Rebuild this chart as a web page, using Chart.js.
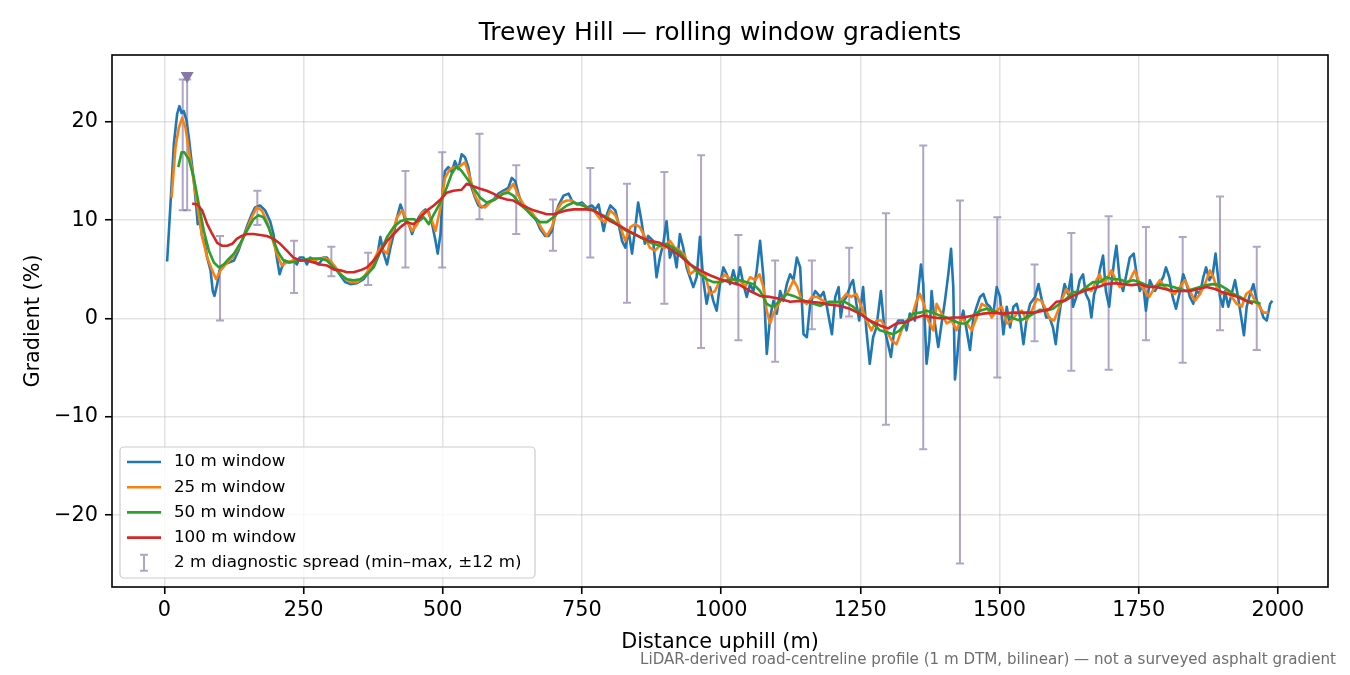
<!DOCTYPE html>
<html>
<head>
<meta charset="utf-8">
<title>Trewey Hill — rolling window gradients</title>
<script src="https://cdn.jsdelivr.net/npm/chart.js@4.4.1/dist/chart.umd.min.js"></script>
<style>
  html, body { margin: 0; padding: 0; background: #fff; }
  #wrap { width: 1350px; height: 675px; }
</style>
</head>
<body>
<div id="wrap"><canvas id="gradChart" width="1350" height="675"></canvas></div>
<script>
// 10 m window (distance m, gradient %)
const dist10 = [5, 11, 17, 23, 27, 31, 35, 40, 44, 48, 53, 57, 60, 63, 68, 72, 77, 83, 87, 90, 95, 99, 107, 116, 125, 133, 142, 148, 157, 163, 172, 181, 190, 196, 202, 207, 211, 217, 223, 232, 238, 243, 250, 256, 262, 268, 277, 286, 292, 298, 307, 316, 325, 334, 346, 358, 364, 373, 382, 388, 394, 400, 406, 412, 418, 424, 428, 433, 439, 445, 451, 457, 463, 469, 475, 481, 487, 491, 496, 500, 504, 510, 516, 522, 528, 534, 540, 546, 552, 558, 564, 570, 576, 582, 591, 600, 609, 618, 624, 630, 636, 642, 651, 660, 669, 675, 684, 690, 696, 702, 708, 717, 726, 732, 741, 750, 759, 768, 774, 780, 789, 795, 801, 810, 816, 822, 828, 834, 840, 846, 851, 857, 863, 869, 878, 884, 890, 896, 902, 908, 914, 920, 926, 932, 938, 944, 950, 956, 962, 968, 974, 980, 986, 992, 998, 1004, 1010, 1016, 1022, 1028, 1034, 1040, 1046, 1052, 1058, 1064, 1070, 1076, 1082, 1088, 1094, 1100, 1106, 1112, 1118, 1124, 1130, 1136, 1142, 1148, 1154, 1160, 1169, 1178, 1184, 1190, 1199, 1205, 1211, 1215, 1219, 1225, 1233, 1237, 1243, 1248, 1255, 1261, 1267, 1273, 1279, 1287, 1293, 1297, 1305, 1311, 1318, 1327, 1333, 1339, 1348, 1354, 1359, 1363, 1369, 1374, 1378, 1384, 1390, 1396, 1402, 1408, 1413, 1417, 1420, 1424, 1429, 1435, 1441, 1447, 1453, 1459, 1465, 1471, 1477, 1483, 1489, 1495, 1501, 1507, 1513, 1519, 1525, 1531, 1537, 1543, 1549, 1555, 1564, 1570, 1576, 1584, 1590, 1596, 1601, 1605, 1611, 1617, 1623, 1629, 1632, 1638, 1644, 1650, 1655, 1661, 1665, 1670, 1676, 1680, 1686, 1691, 1697, 1701, 1706, 1710, 1716, 1722, 1728, 1734, 1741, 1747, 1752, 1758, 1763, 1770, 1779, 1787, 1794, 1799, 1805, 1811, 1817, 1823, 1830, 1836, 1842, 1848, 1854, 1860, 1866, 1871, 1877, 1883, 1888, 1892, 1896, 1901, 1905, 1911, 1917, 1923, 1929, 1935, 1939, 1944, 1950, 1956, 1962, 1968, 1974, 1980, 1986, 1990];
const grad10 = [5.8, 11.6, 17.7, 20.8, 21.6, 20.9, 21.1, 20.1, 18.4, 16.4, 14.0, 11.6, 9.6, 10.3, 8.3, 7.9, 6.2, 4.9, 2.8, 2.3, 3.5, 4.9, 5.5, 5.7, 5.9, 6.9, 8.3, 9.3, 10.6, 11.3, 11.5, 11.0, 9.9, 8.6, 6.2, 4.5, 5.2, 5.9, 5.7, 5.9, 5.5, 6.2, 6.2, 5.5, 6.2, 5.9, 5.5, 6.2, 6.2, 5.7, 5.2, 4.4, 3.7, 3.5, 3.6, 4.0, 4.5, 5.2, 6.2, 8.3, 6.6, 5.5, 7.2, 8.6, 10.3, 11.6, 11.0, 9.9, 9.6, 8.6, 9.6, 10.3, 10.8, 11.1, 10.8, 9.6, 7.9, 6.6, 8.6, 13.0, 15.0, 15.4, 14.9, 16.0, 15.2, 16.7, 16.4, 15.4, 13.3, 12.3, 11.5, 11.3, 11.5, 11.8, 12.1, 12.7, 13.0, 13.3, 14.3, 14.0, 12.7, 11.6, 11.1, 10.6, 9.9, 9.1, 8.4, 8.4, 8.9, 10.5, 11.5, 12.5, 12.7, 12.0, 11.6, 11.8, 11.3, 11.5, 11.1, 11.6, 8.9, 10.6, 11.5, 11.0, 9.6, 7.9, 7.2, 8.9, 6.6, 9.3, 11.8, 9.9, 7.6, 8.4, 7.9, 4.2, 6.2, 7.6, 9.9, 6.2, 7.2, 5.2, 8.6, 7.2, 5.2, 4.2, 3.2, 4.2, 8.3, 3.9, 1.5, 3.2, 1.8, 0.8, 3.5, 5.2, 4.5, 3.5, 4.9, 3.5, 5.2, 3.5, 2.2, 3.5, 2.8, 4.9, 7.9, 4.2, -3.6, 0.1, 1.8, 0.5, 2.8, 1.8, 3.5, 4.5, 3.9, 6.2, 5.2, -1.6, -1.9, 1.5, 2.8, 2.2, 2.7, 1.2, -1.6, 2.2, 3.2, 0.1, 1.7, 2.2, 3.5, 3.9, 1.5, -0.2, 3.2, -1.2, -4.6, -1.9, -0.9, 2.8, -0.9, -1.9, -3.9, -1.2, -0.2, -0.2, -1.2, 0.5, -0.2, 2.8, 5.5, 3.5, -4.6, -2.2, 2.8, -0.5, -2.9, -0.5, 1.8, 4.5, 7.1, 3.2, -6.2, -3.9, -0.5, 0.8, -1.2, -3.2, 0.1, 1.2, 2.2, 2.5, 1.5, 1.2, 0.5, 3.2, 2.2, -1.6, 1.2, -0.9, 1.2, 1.5, 0.1, -2.6, 0.1, 1.5, 2.2, 3.5, 1.9, 0.1, 0.1, -0.9, -2.6, -0.5, 1.8, 3.5, 2.5, 4.5, 1.2, 2.2, 3.9, 4.5, 2.5, 1.8, 0.1, 2.5, 3.5, 4.9, 6.4, 2.8, 1.2, 3.5, 5.9, 7.4, 3.9, 2.8, 4.5, 6.2, 6.6, 4.2, 2.8, 3.5, 0.8, 3.9, 2.8, 3.5, 4.2, 5.2, 4.2, 2.2, 1.0, 2.5, 4.5, 3.5, 2.2, 1.5, 2.8, 2.5, 4.2, 5.2, 3.9, 4.5, 6.6, 4.5, 2.2, 1.2, 2.8, 1.2, 2.5, 3.9, 2.0, -0.2, -1.7, 1.2, 2.5, 3.5, 1.8, 1.2, 0.1, -0.2, 1.5, 1.8];

// 25 m window
const dist25 = [13, 20, 26, 32, 38, 44, 50, 59, 68, 77, 86, 93, 101, 110, 122, 133, 145, 157, 166, 175, 184, 193, 202, 211, 220, 232, 250, 268, 286, 298, 310, 322, 334, 346, 358, 370, 382, 388, 400, 409, 418, 427, 436, 445, 454, 463, 472, 481, 487, 496, 504, 513, 522, 531, 540, 549, 558, 567, 576, 585, 597, 609, 618, 627, 636, 645, 657, 669, 678, 687, 696, 705, 714, 723, 732, 741, 750, 759, 771, 783, 792, 801, 810, 819, 828, 837, 846, 854, 863, 872, 881, 890, 899, 908, 917, 926, 935, 944, 953, 962, 971, 980, 989, 998, 1007, 1016, 1025, 1034, 1043, 1052, 1061, 1069, 1076, 1082, 1088, 1094, 1103, 1112, 1121, 1130, 1137, 1145, 1154, 1163, 1172, 1184, 1193, 1201, 1213, 1225, 1234, 1243, 1252, 1261, 1270, 1279, 1288, 1297, 1306, 1315, 1324, 1333, 1342, 1351, 1357, 1364, 1372, 1381, 1387, 1396, 1405, 1414, 1423, 1432, 1441, 1450, 1459, 1468, 1477, 1486, 1495, 1504, 1513, 1522, 1531, 1540, 1549, 1558, 1567, 1575, 1581, 1590, 1598, 1605, 1614, 1620, 1629, 1638, 1647, 1656, 1665, 1674, 1680, 1686, 1695, 1701, 1709, 1716, 1725, 1734, 1743, 1752, 1761, 1769, 1779, 1788, 1797, 1806, 1815, 1824, 1833, 1842, 1851, 1860, 1869, 1878, 1884, 1890, 1899, 1908, 1917, 1926, 1935, 1943, 1950, 1959, 1967, 1974, 1983];
const grad25 = [12.3, 17.4, 19.4, 20.4, 19.4, 17.1, 15.0, 11.6, 8.3, 6.2, 4.9, 4.0, 4.9, 5.5, 6.2, 7.2, 8.6, 10.3, 11.3, 11.0, 9.9, 8.3, 6.6, 5.4, 5.7, 5.9, 5.9, 5.9, 6.2, 5.9, 5.0, 4.2, 3.7, 3.7, 4.2, 5.2, 6.6, 7.2, 6.6, 8.6, 10.3, 11.0, 9.9, 8.9, 9.6, 10.8, 11.0, 9.9, 8.9, 11.3, 14.3, 15.2, 15.4, 15.5, 15.9, 14.3, 12.5, 11.5, 11.3, 11.8, 12.3, 12.8, 13.0, 13.7, 12.5, 11.6, 11.0, 10.1, 9.1, 8.4, 9.3, 11.0, 11.8, 12.0, 12.0, 11.6, 11.6, 11.3, 11.0, 10.1, 9.8, 11.0, 10.5, 9.3, 7.9, 9.3, 9.6, 9.3, 8.3, 7.2, 6.9, 7.4, 7.2, 7.9, 7.2, 6.9, 6.4, 4.5, 4.9, 4.7, 4.5, 2.5, 2.8, 3.9, 4.5, 4.0, 3.9, 3.9, 3.2, 4.2, 3.9, 4.5, 3.2, 0.8, -0.5, 0.5, 1.5, 2.2, 2.8, 3.9, 3.2, 1.8, 1.5, 2.2, 2.2, 1.8, 1.4, 1.5, 1.7, 2.5, 2.2, 2.5, 1.2, -0.2, -1.2, -0.2, -0.2, -1.2, -2.2, -2.6, -1.2, -0.2, 0.1, 1.8, 2.5, 1.5, -0.2, -1.2, 1.5, 0.5, -0.5, -0.2, -1.2, 0.1, -0.5, -1.2, 0.1, 1.5, 1.2, 0.1, 0.8, 1.2, -0.5, -0.2, 0.5, 0.8, -0.2, 0.8, 2.0, 1.8, 1.2, 0.0, -0.2, 0.8, 2.2, 3.0, 2.2, 2.5, 2.8, 3.2, 2.8, 3.9, 4.5, 3.5, 4.2, 4.9, 3.9, 3.2, 3.5, 3.9, 4.9, 3.5, 2.8, 2.2, 3.2, 3.9, 3.2, 2.8, 2.5, 3.2, 3.9, 2.8, 1.8, 2.5, 3.5, 4.9, 4.2, 3.2, 2.5, 2.8, 2.2, 1.5, 1.2, 2.5, 2.8, 1.8, 1.2, 0.6, 0.6];

// 50 m window
const dist50 = [25, 31, 36, 44, 53, 62, 71, 80, 89, 98, 107, 116, 125, 136, 148, 160, 169, 178, 187, 196, 205, 214, 226, 244, 262, 280, 292, 304, 316, 328, 340, 352, 364, 376, 388, 400, 412, 424, 436, 448, 457, 466, 475, 484, 496, 507, 516, 525, 534, 543, 555, 567, 579, 594, 609, 618, 627, 639, 651, 663, 675, 687, 699, 711, 723, 735, 747, 759, 771, 783, 795, 807, 819, 831, 843, 854, 866, 878, 890, 902, 914, 926, 938, 950, 962, 974, 986, 998, 1010, 1022, 1034, 1046, 1058, 1070, 1082, 1091, 1100, 1109, 1118, 1130, 1142, 1154, 1166, 1178, 1193, 1208, 1222, 1237, 1249, 1261, 1273, 1285, 1297, 1309, 1321, 1333, 1345, 1357, 1369, 1381, 1393, 1405, 1417, 1429, 1441, 1453, 1465, 1477, 1489, 1501, 1513, 1525, 1537, 1549, 1561, 1573, 1584, 1596, 1608, 1620, 1632, 1644, 1656, 1668, 1680, 1692, 1704, 1716, 1728, 1740, 1752, 1764, 1776, 1788, 1800, 1812, 1824, 1836, 1848, 1860, 1872, 1884, 1896, 1908, 1920, 1932, 1944, 1956, 1969];
const grad50 = [15.4, 16.9, 16.9, 16.2, 14.3, 11.6, 8.9, 6.9, 5.7, 5.2, 5.5, 6.1, 6.6, 7.6, 8.9, 10.1, 10.5, 10.3, 9.3, 7.9, 6.7, 5.9, 5.7, 5.9, 6.1, 6.1, 5.9, 5.2, 4.5, 4.0, 3.9, 4.0, 4.5, 5.2, 6.8, 8.3, 9.3, 9.9, 10.1, 10.1, 9.9, 10.3, 9.6, 10.6, 11.8, 13.3, 14.7, 15.5, 15.0, 14.3, 13.3, 12.3, 11.8, 12.1, 12.7, 12.8, 12.5, 11.6, 11.0, 10.3, 9.8, 9.8, 10.3, 11.0, 11.5, 11.8, 11.6, 11.3, 11.0, 10.6, 10.3, 9.9, 9.3, 8.9, 8.6, 8.3, 7.9, 7.6, 7.4, 7.6, 7.2, 6.7, 5.9, 5.2, 4.5, 4.0, 3.7, 3.7, 3.9, 4.0, 3.9, 3.7, 3.5, 2.8, 1.5, 1.2, 1.5, 2.0, 2.5, 2.3, 2.0, 1.7, 1.5, 1.3, 1.7, 1.7, 1.7, 1.2, 0.6, 0.0, -0.5, -1.2, -1.4, -1.6, -1.2, -0.3, 0.5, 0.6, 0.8, 0.6, 0.3, 0.1, -0.2, -0.5, -0.5, 0.3, 0.8, 1.0, 0.8, 0.5, 0.3, 0.0, -0.2, 0.1, 0.5, 0.9, 0.8, 1.0, 1.5, 2.0, 2.7, 2.7, 3.2, 3.7, 3.7, 4.2, 4.0, 4.0, 3.7, 3.9, 3.7, 3.4, 3.2, 3.4, 3.4, 3.2, 3.0, 2.8, 3.0, 3.2, 3.4, 3.5, 3.4, 3.0, 2.5, 2.2, 1.8, 1.7, 1.5];

// 100 m window
const dist100 = [50, 59, 68, 77, 86, 95, 104, 113, 122, 130, 139, 148, 160, 172, 184, 196, 208, 220, 232, 244, 256, 268, 280, 292, 304, 316, 328, 340, 352, 364, 376, 388, 400, 412, 424, 436, 448, 460, 472, 484, 496, 507, 519, 534, 543, 552, 567, 579, 591, 603, 615, 627, 639, 651, 663, 675, 687, 699, 711, 723, 735, 747, 759, 771, 783, 801, 819, 837, 854, 872, 890, 908, 926, 944, 962, 980, 998, 1016, 1034, 1052, 1070, 1088, 1106, 1124, 1142, 1160, 1178, 1196, 1213, 1231, 1249, 1267, 1285, 1300, 1315, 1330, 1345, 1363, 1381, 1399, 1417, 1435, 1453, 1471, 1489, 1507, 1525, 1543, 1561, 1579, 1590, 1602, 1617, 1632, 1647, 1662, 1677, 1692, 1707, 1722, 1737, 1752, 1767, 1782, 1797, 1812, 1827, 1842, 1857, 1872, 1887, 1899, 1911, 1923, 1935, 1947, 1955];
const grad100 = [11.7, 11.6, 11.0, 9.6, 8.6, 7.7, 7.4, 7.4, 7.6, 8.1, 8.4, 8.6, 8.6, 8.5, 8.4, 8.1, 7.6, 6.9, 6.2, 5.9, 5.9, 5.7, 5.5, 5.4, 5.0, 4.9, 4.7, 4.7, 4.9, 5.2, 5.9, 6.8, 7.9, 8.6, 9.3, 9.8, 9.6, 10.3, 11.0, 11.5, 12.1, 12.8, 13.0, 13.1, 13.7, 13.5, 13.2, 13.0, 12.7, 12.3, 12.1, 12.0, 11.6, 11.3, 11.0, 10.8, 10.6, 10.6, 10.8, 11.0, 11.1, 11.1, 11.1, 11.0, 10.6, 9.9, 9.4, 8.8, 8.3, 7.9, 7.7, 7.1, 6.4, 5.5, 4.9, 4.4, 4.0, 3.7, 3.4, 2.8, 2.3, 2.2, 2.0, 1.7, 1.8, 1.7, 1.6, 1.4, 1.3, 1.0, 0.5, -0.2, -0.7, -1.0, -0.5, -0.4, 0.0, 0.3, 0.1, 0.0, 0.1, 0.1, 0.3, 0.5, 0.6, 0.5, 0.6, 0.6, 0.6, 0.8, 1.0, 1.7, 1.8, 2.3, 2.7, 3.0, 3.2, 3.5, 3.6, 3.5, 3.4, 3.5, 3.2, 3.2, 3.0, 2.8, 2.8, 2.8, 3.0, 3.2, 3.0, 2.7, 2.5, 2.3, 2.0, 1.7, 1.5];

// 2 m diagnostic spread (min–max within ±12 m)
const spreadDist = [33, 41, 100, 167, 233, 300, 366, 433, 499, 566, 632, 698, 765, 831, 898, 964, 1031, 1097, 1163, 1230, 1296, 1363, 1429, 1496, 1563, 1629, 1696, 1763, 1829, 1896, 1962];
const spreadLow = [11.0, 11.0, -0.2, 9.5, 2.6, 4.3, 3.4, 5.2, 5.2, 10.1, 8.6, 6.9, 6.2, 1.6, 1.5, -3.0, -2.2, -4.4, -1.1, 0.2, -10.8, -13.3, -24.9, -6.0, -2.3, -5.3, -5.2, -2.2, -4.5, -1.2, -3.2];
const spreadHigh = [24.3, 24.3, 8.4, 13.0, 7.9, 7.3, 6.7, 15.0, 16.9, 18.8, 15.6, 12.1, 15.3, 13.7, 14.9, 16.6, 8.5, 5.9, 5.9, 7.2, 10.7, 17.6, 12.0, 10.3, 5.5, 8.7, 10.4, 9.3, 8.3, 12.4, 7.3];

// steepest 2 m reading
const peakDist = [41];
const peakGrad = [24.7];

const xTicks = [0, 250, 500, 750, 1000, 1250, 1500, 1750, 2000];
const yTicks = [-20, -10, 0, 10, 20];

const TITLE = "Trewey Hill \u2014 rolling window gradients";
const FOOTNOTE = "LiDAR-derived road-centreline profile (1 m DTM, bilinear) \u2014 not a surveyed asphalt gradient";
const ERR_COLOR = "rgba(122, 106, 160, 0.6)";
const SERIES = [
    { label: "10 m window", color: "#1f77b4" },
    { label: "25 m window", color: "#ff7f0e" },
    { label: "50 m window", color: "#2ca02c" },
    { label: "100 m window", color: "#d62728" }
];

function pts(xs, ys) {
    return xs.map((x, i) => ({ x: x, y: ys[i] }));
}

function minusSign(v) {
    return v < 0 ? "\u2212" + Math.abs(v) : String(v);
}

Chart.defaults.font.family = "'DejaVu Sans', sans-serif";
Chart.defaults.color = "#000";

// error bars behind the lines
const errorBars = {
    id: "errorBars",
    beforeDatasetsDraw(chart) {
        const { ctx, chartArea, scales: { x, y } } = chart;
        ctx.save();
        ctx.beginPath();
        ctx.rect(chartArea.left, chartArea.top, chartArea.width, chartArea.height);
        ctx.clip();
        ctx.strokeStyle = ERR_COLOR;
        ctx.lineWidth = 2;
        spreadDist.forEach((d, i) => {
            const px = x.getPixelForValue(d);
            const top = y.getPixelForValue(spreadHigh[i]);
            const bot = y.getPixelForValue(spreadLow[i]);
            ctx.beginPath();
            ctx.moveTo(px, top); ctx.lineTo(px, bot);
            ctx.moveTo(px - 4, top); ctx.lineTo(px + 4, top);
            ctx.moveTo(px - 4, bot); ctx.lineTo(px + 4, bot);
            ctx.stroke();
        });
        ctx.restore();
    }
};

// title over the axes, footnote, frame and an in-axes legend (matplotlib look)
const decorations = {
    id: "decorations",
    afterDraw(chart) {
        const { ctx, chartArea } = chart;
        ctx.save();
        ctx.fillStyle = "#000";
        ctx.font = "25px 'DejaVu Sans', sans-serif";
        ctx.textAlign = "center";
        ctx.textBaseline = "middle";
        ctx.fillText(TITLE, (chartArea.left + chartArea.right) / 2, 33);

        ctx.font = "15.1px 'DejaVu Sans', sans-serif";
        ctx.fillStyle = "#6e6e6e";
        ctx.textAlign = "right";
        ctx.fillText(FOOTNOTE, 1336, 660);

        ctx.strokeStyle = "#000";
        ctx.lineWidth = 1.6;
        ctx.strokeRect(chartArea.left, chartArea.top, chartArea.width, chartArea.height);

        const bx = chartArea.left + 8, by = chartArea.bottom - 140, bw = 415, bh = 131;
        ctx.beginPath();
        ctx.roundRect(bx, by, bw, bh, 4);
        ctx.fillStyle = "rgba(255,255,255,0.8)";
        ctx.fill();
        ctx.strokeStyle = "#cccccc";
        ctx.lineWidth = 1.2;
        ctx.stroke();

        ctx.font = "16.7px 'DejaVu Sans', sans-serif";
        ctx.textBaseline = "middle";
        ctx.textAlign = "left";
        SERIES.forEach((s, i) => {
            const ry = by + 15 + i * 25.2;
            ctx.strokeStyle = s.color;
            ctx.lineWidth = 2.6;
            ctx.beginPath();
            ctx.moveTo(bx + 7, ry); ctx.lineTo(bx + 41, ry);
            ctx.stroke();
            ctx.fillStyle = "#000";
            ctx.fillText(s.label, bx + 54, ry);
        });
        const ry = by + 15 + 4 * 25.2;
        ctx.strokeStyle = ERR_COLOR;
        ctx.lineWidth = 2;
        ctx.beginPath();
        ctx.moveTo(bx + 24, ry - 8); ctx.lineTo(bx + 24, ry + 8);
        ctx.moveTo(bx + 20, ry - 8); ctx.lineTo(bx + 28, ry - 8);
        ctx.moveTo(bx + 20, ry + 8); ctx.lineTo(bx + 28, ry + 8);
        ctx.stroke();
        ctx.fillStyle = "#000";
        ctx.fillText("2 m diagnostic spread (min\u2013max, \u00b112 m)", bx + 54, ry);
        ctx.restore();
    }
};

const lineSets = [[dist10, grad10], [dist25, grad25], [dist50, grad50], [dist100, grad100]].map((d, i) => ({
    type: "line",
    label: SERIES[i].label,
    data: pts(d[0], d[1]),
    borderColor: SERIES[i].color,
    backgroundColor: SERIES[i].color,
    borderWidth: 2.6,
    pointRadius: 0,
    tension: 0,
    borderJoinStyle: "round",
    order: 4 - i
}));

const ctx = document.getElementById("gradChart").getContext("2d");
const gradChart = new Chart(ctx, {
    type: "line",
    data: {
        datasets: [...lineSets, {
            type: "line",
            label: "steepest",
            data: pts(peakDist, peakGrad),
            showLine: false,
            pointStyle: "triangle",
            rotation: 180,
            pointRadius: 7.5,
            pointBackgroundColor: "#8878aa",
            pointBorderWidth: 0,
            order: 0
        }]
    },
    options: {
        responsive: false,
        animation: false,
        layout: { padding: { left: 0, right: 22, top: 55, bottom: 22.2 } },
        plugins: {
            legend: { display: false },
            tooltip: { enabled: false },
            title: { display: false }
        },
        scales: {
            x: {
                type: "linear",
                min: -94,
                max: 2090,
                afterFit: (s) => { s.height = 65.8; },
                afterBuildTicks: (s) => { s.ticks = xTicks.map(v => ({ value: v })); },
                ticks: {
                    font: { size: 20.8 },
                    padding: 4,
                    maxRotation: 0,
                    callback: (v) => minusSign(v)
                },
                grid: {
                    color: "rgba(176,176,176,0.35)",
                    lineWidth: 1.5,
                    tickColor: "#000",
                    tickLength: 7,
                    tickWidth: 1.6
                },
                border: { display: false },
                title: {
                    display: true,
                    text: "Distance uphill (m)",
                    font: { size: 20.8 },
                    padding: { top: 0, bottom: -2 }
                }
            },
            y: {
                type: "linear",
                min: -27.3,
                max: 26.8,
                afterFit: (s) => { s.width = 112; },
                afterBuildTicks: (s) => { s.ticks = yTicks.map(v => ({ value: v })); },
                ticks: {
                    font: { size: 20.8 },
                    padding: 7,
                    callback: (v) => minusSign(v)
                },
                grid: {
                    color: "rgba(176,176,176,0.35)",
                    lineWidth: 1.5,
                    tickColor: "#000",
                    tickLength: 7,
                    tickWidth: 1.6
                },
                border: { display: false },
                title: {
                    display: true,
                    text: "Gradient (%)",
                    font: { size: 20.8 },
                    padding: { top: 21, bottom: 0 }
                }
            }
        }
    },
    plugins: [errorBars, decorations]
});
</script>
</body>
</html>
